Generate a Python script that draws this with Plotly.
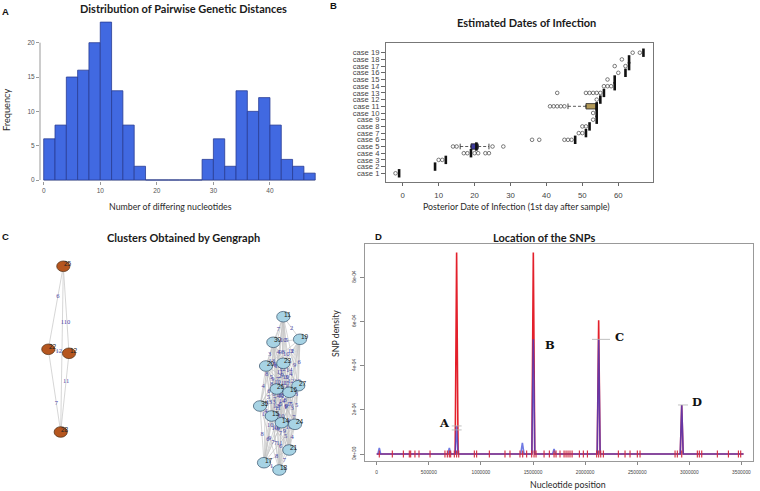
import itertools
import plotly.graph_objects as go

W, H = 760, 491

# ======================= DATA =======================
# Panel A: histogram of pairwise distances (bin width 2)
hist_bin_left = [0, 2, 4, 6, 8, 10, 12, 14, 16, 18, 20, 22, 24, 26, 28, 30, 32, 34, 36, 38, 40, 42, 44, 46]
hist_counts = [6, 8, 15, 16, 20, 23, 13, 8, 2, 0, 0, 0, 0, 0, 3, 6, 2, 13, 10, 12, 8, 3, 2, 1]
hist_bin_width = 2
hist_xticks = [0, 10, 20, 30, 40]
hist_yticks = [0, 5, 10, 15, 20]

# Panel B: estimated dates of infection
case_ids = list(range(1, 20))
case_labels = ["case %d" % i for i in case_ids]
case_medians = [-1, 9, 12, 19, 20.5, 48, 51, 52, 54, 54, 54, 55, 56, 59, 59, 62, 63, 63, 67]
box_case = [5, 11]
box_q1 = [19, 51]
box_median = [20.5, 54]
box_q3 = [21, 54]
box_lower = [16, 46]
box_upper = [24, 54]
box_fill = ["#3d3a9e", "#b39a58"]
outlier_case = [1, 3, 3, 4, 4, 4, 4, 4, 4, 5, 5, 5, 5, 6, 6, 6, 6, 6, 7, 7, 8, 8, 9, 10,
                11, 11, 11, 11, 11, 12, 13, 13, 13, 13, 13, 13, 14, 14, 14, 15, 16, 17, 17, 18, 19, 19]
outlier_value = [-2, 10, 11, 17, 18, 20, 21, 23, 24, 14, 15, 25, 28, 36, 38, 45, 46, 47, 49, 50, 50, 51, 53, 53,
                 41, 42, 43, 44, 45, 54, 43, 51, 52, 53, 54, 55, 56, 57, 58, 57, 60, 59, 62, 61, 64, 66]
date_ticks = [0, 10, 20, 30, 40, 50, 60]

# Panel C: Gengraph clusters (layout coordinates)
orange_ids = ["25", "22", "12", "28"]
orange_x = [63.3, 48.3, 69.0, 60.7]
orange_y = [266.3, 349.3, 353.3, 432.0]
orange_edges = [(0, 1), (0, 2), (0, 3), (1, 2), (1, 3), (2, 3)]
orange_weights = [6, 10, 1, 12, 7, 11]
orange_label_t = [0.36, 0.65, 0.34, 0.5, 0.65, 0.36]

blue_ids = ["11", "19", "30", "23", "20", "26", "27", "16", "35", "15", "14", "24", "21", "17", "18"]
blue_x = [283.3, 300.0, 273.3, 283.3, 266.0, 276.7, 298.3, 289.3, 260.0, 271.7, 281.7, 295.0, 289.3, 264.0, 279.3]
blue_y = [316.7, 339.3, 342.3, 363.3, 366.0, 389.0, 385.7, 392.3, 406.0, 416.0, 422.7, 424.3, 450.0, 462.7, 470.0]
blue_weights = [2, 7, 10, 11, 9, 12, 10, 13, 11, 12, 14, 15, 16, 17,
                5, 3, 8, 7, 6, 9, 11, 10, 12, 10, 13, 14, 15,
                4, 3, 6, 8, 9, 8, 9, 10, 11, 12, 13, 12,
                5, 2, 4, 3, 8, 6, 7, 8, 9, 11, 10,
                5, 9, 7, 4, 6, 8, 10, 11, 12, 11,
                6, 1, 5, 3, 4, 6, 9, 10, 9,
                2, 11, 8, 7, 5, 7, 12, 10,
                7, 5, 1, 3, 6, 10, 9,
                4, 6, 9, 10, 8, 9,
                2, 5, 7, 6, 7,
                3, 5, 7, 6,
                4, 11, 10,
                8, 7,
                1]

# Panel D: SNP density
red_x = [0, 753000, 767000, 781000, 1489000, 1503000, 1517000, 2116000, 2130000, 2144000,
         2913000, 2927000, 2941000, 3520000]
red_y = [0, 0, 9.12e-4, 0, 0, 9.12e-4, 0, 0, 6.06e-4, 0, 0, 2.22e-4, 0, 0]
blue_dx = [0, 12000, 25000, 38000, 683000, 697000, 711000, 753000, 767000, 781000,
           1382000, 1398000, 1414000, 1489000, 1503000, 1517000, 1688000, 1702000, 1716000,
           2116000, 2130000, 2144000, 2913000, 2927000, 2941000, 3520000]
blue_dy = [0, 0, 2.7e-5, 0, 0, 2.7e-5, 0, 0, 1.27e-4, 0, 0, 5.0e-5, 0, 0, 5.2e-4, 0, 0, 2.3e-5, 0,
           0, 5.2e-4, 0, 0, 2.22e-4, 0, 0]
snp_positions = [25000, 150000, 256000, 313000, 326000, 367000, 406000, 512000, 655000, 678000,
                 697000, 710000, 745000, 767000, 787000, 937000, 959000, 1081000, 1231000, 1279000,
                 1375000, 1401000, 1439000, 1487000, 1510000, 1529000, 1606000, 1657000, 1702000,
                 1721000, 1759000, 1798000, 1817000, 1836000, 1855000, 1875000, 1945000, 1983000,
                 2022000, 2111000, 2130000, 2150000, 2175000, 2319000, 2383000, 2431000, 2501000,
                 2527000, 2863000, 2885000, 2927000, 3077000, 3096000, 3119000, 3269000, 3375000,
                 3471000, 3493000]
peak_seg_x0 = [720000, 720000, 2066000, 2891000]
peak_seg_x1 = [815000, 815000, 2239000, 2987000]
peak_seg_y = [1.27e-4, 1.09e-4, 5.19e-4, 2.22e-4]
peak_names = ["A", "B", "C", "D"]
pos_ticks = [0, 500000, 1000000, 1500000, 2000000, 2500000, 3000000, 3500000]
dens_ticks = [0, 2e-4, 4e-4, 6e-4, 8e-4]
dens_ticktext = ["0e+00", "2e-04", "4e-04", "6e-04", "8e-04"]


def px(x):
    return x / W


def py(y):
    return 1 - y / H


fig = go.Figure()

# ======================= PANEL A =======================
fig.add_trace(go.Bar(
    x=[b + hist_bin_width / 2 for b in hist_bin_left], y=hist_counts, width=hist_bin_width,
    marker=dict(color="#4169e1", line=dict(color="#283c94", width=0.8)),
    xaxis="x", yaxis="y", showlegend=False, hoverinfo="skip"))

# ======================= PANEL B =======================
for i in range(len(box_case)):
    fig.add_trace(go.Box(
        y=[box_case[i]], q1=[box_q1[i]], median=[box_median[i]], q3=[box_q3[i]],
        lowerfence=[box_q1[i]], upperfence=[box_q3[i]], orientation="h", width=0.8,
        fillcolor=box_fill[i], line=dict(color="#222", width=0.8),
        xaxis="x2", yaxis="y2", showlegend=False, hoverinfo="skip"))
    wx, wy = [], []
    if box_lower[i] < box_q1[i]:
        wx += [box_lower[i], box_q1[i], None]
        wy += [box_case[i], box_case[i], None]
    if box_upper[i] > box_q3[i]:
        wx += [box_q3[i], box_upper[i], None]
        wy += [box_case[i], box_case[i], None]
    fig.add_trace(go.Scatter(x=wx, y=wy, mode="lines",
                             line=dict(color="#333", width=0.8, dash="3px,2px"),
                             xaxis="x2", yaxis="y2", showlegend=False, hoverinfo="skip"))
    sx = [v for v in (box_lower[i], box_upper[i]) if v not in (box_q1[i], box_q3[i])]
    fig.add_trace(go.Scatter(x=sx, y=[box_case[i]] * len(sx), mode="markers",
                             marker=dict(symbol="line-ns", size=4, line=dict(color="#333", width=0.9)),
                             xaxis="x2", yaxis="y2", showlegend=False, hoverinfo="skip"))

fig.add_trace(go.Scatter(x=case_medians, y=case_ids, mode="markers",
                         marker=dict(symbol="line-ns", size=6, line=dict(color="#111", width=2.6)),
                         xaxis="x2", yaxis="y2", showlegend=False, hoverinfo="skip"))
fig.add_trace(go.Scatter(x=outlier_value, y=outlier_case, mode="markers",
                         marker=dict(symbol="circle-open", size=3.6, color="#444", line=dict(width=0.7)),
                         xaxis="x2", yaxis="y2", showlegend=False, hoverinfo="skip"))

# ======================= PANEL C =======================
shapes = []
annotations = []


def draw_cluster(ids, xs, ys, edges, weights, ts, fill, line_col):
    ex, ey, lx, ly, lt = [], [], [], [], []
    for (a, b), w, t in zip(edges, weights, ts):
        ex += [xs[a], xs[b], None]
        ey += [ys[a], ys[b], None]
        lx.append(xs[a] + t * (xs[b] - xs[a]))
        ly.append(ys[a] + t * (ys[b] - ys[a]))
        lt.append(str(w))
    fig.add_trace(go.Scatter(x=ex, y=ey, mode="lines", line=dict(color="#c4c4c4", width=0.7),
                             xaxis="x3", yaxis="y3", showlegend=False, hoverinfo="skip"))
    fig.add_trace(go.Scatter(x=lx, y=ly, mode="text", text=lt,
                             textfont=dict(family="Liberation Serif", size=6.5, color="#4646a8"),
                             xaxis="x3", yaxis="y3", showlegend=False, hoverinfo="skip"))
    for nid, x, y in zip(ids, xs, ys):
        shapes.append(dict(type="circle", xref="x3", yref="y3", x0=x - 6.6, x1=x + 6.6,
                           y0=y - 5.3, y1=y + 5.3, fillcolor=fill,
                           line=dict(color=line_col, width=0.7), layer="above"))
        annotations.append(dict(x=x + 4.5, y=y - 2.5, xref="x3", yref="y3", text=nid, showarrow=False,
                                font=dict(family="Liberation Sans", size=6.5, color="#222")))


draw_cluster(orange_ids, orange_x, orange_y, orange_edges, orange_weights, orange_label_t,
             "#b5561f", "#4a2a10")
blue_edges = list(itertools.combinations(range(len(blue_ids)), 2))
draw_cluster(blue_ids, blue_x, blue_y, blue_edges, blue_weights, [0.5] * len(blue_edges),
             "#a7d3e4", "#35506a")

# ======================= PANEL D =======================
fig.add_trace(go.Scatter(x=red_x, y=red_y, mode="lines", line=dict(color="#e3202b", width=1.6),
                         xaxis="x4", yaxis="y4", showlegend=False, hoverinfo="skip"))
fig.add_trace(go.Scatter(x=blue_dx, y=blue_dy, mode="lines", line=dict(color="#3442d8", width=1.6),
                         opacity=0.7, xaxis="x4", yaxis="y4", showlegend=False, hoverinfo="skip"))
fig.add_trace(go.Scatter(x=snp_positions, y=[0] * len(snp_positions), mode="markers",
                         marker=dict(symbol="line-ns", size=5, line=dict(color="#d22a3c", width=1.1)),
                         xaxis="x4", yaxis="y4", showlegend=False, hoverinfo="skip"))
sx, sy = [], []
for a, b, v in zip(peak_seg_x0, peak_seg_x1, peak_seg_y):
    sx += [a, b, None]
    sy += [v, v, None]
fig.add_trace(go.Scatter(x=sx, y=sy, mode="lines", line=dict(color="#b0b0b0", width=0.8),
                         xaxis="x4", yaxis="y4", showlegend=False, hoverinfo="skip"))
peak_label_pos = [(655000, 1.39e-4), (1663000, 4.94e-4), (2328000, 5.31e-4), (3071000, 2.37e-4)]
for name, (lx, ly) in zip(peak_names, peak_label_pos):
    annotations.append(dict(x=lx, y=ly, xref="x4", yref="y4", text="<b>%s</b>" % name, showarrow=False,
                            font=dict(family="DejaVu Serif", size=11.5, color="#111")))

# ======================= TEXT =======================
title_font = dict(family="Lato", size=11, color="#1a1a1a")
label_font = dict(family="Lato", size=8.8, color="#2a2a2a")


def ann(text, x, y, font, angle=0, xanchor="center"):
    annotations.append(dict(x=px(x), y=py(y), xref="paper", yref="paper", text=text, showarrow=False,
                            font=font, textangle=angle, xanchor=xanchor, yanchor="middle"))


ann("<b>Distribution of Pairwise Genetic Distances</b>", 183, 8.5, title_font)
ann("<b>Estimated Dates of Infection</b>", 526, 23, title_font)
ann("<b>Clusters Obtained by Gengraph</b>", 183, 237, title_font)
ann("<b>Location of the SNPs</b>", 544, 237, title_font)
ann("Frequency", 6, 110, dict(family="Lato", size=9.2, color="#2a2a2a"), angle=-90)
ann("Number of differing nucleotides", 170, 206.5, label_font)
ann("Posterior Date of Infection (1st day after sample)", 516, 206, label_font)
ann("SNP density", 335, 334, label_font, angle=-90)
ann("Nucleotide position", 567.5, 484, label_font)
letter_font = dict(family="Liberation Sans", size=9.5, color="#111")
ann("<b>A</b>", 5, 12, letter_font)
ann("<b>B</b>", 333, 6, letter_font)
ann("<b>C</b>", 5, 236, letter_font)
ann("<b>D</b>", 378, 236, letter_font)

# axis lines for panel A (R style: only over tick range)
shapes.append(dict(type="line", xref="x domain", yref="y", x0=0, x1=0, y0=0, y1=20,
                   line=dict(color="#999", width=1)))
shapes.append(dict(type="line", xref="x", yref="y", x0=0, x1=48, y0=0, y1=0,
                   line=dict(color="#aaa", width=1), layer="below"))

tick_font = dict(family="Liberation Sans", size=6.5, color="#555")
fig.update_layout(
    width=W, height=H, margin=dict(l=0, r=0, t=0, b=0),
    paper_bgcolor="white", plot_bgcolor="white", showlegend=False,
    shapes=shapes, annotations=annotations,
    xaxis=dict(domain=[px(40), px(322)], range=[-0.654, 49.2], anchor="y", tickvals=hist_xticks,
               ticks="outside", ticklen=3, tickcolor="#999", tickfont=tick_font, showgrid=False,
               zeroline=False, showline=False, automargin=False),
    yaxis=dict(domain=[py(181), py(16)], range=[-0.146, 23.89], anchor="x", tickvals=hist_yticks,
               ticks="outside", ticklen=3, tickcolor="#999", tickfont=tick_font, showgrid=False,
               zeroline=False, showline=False, automargin=False),
    xaxis2=dict(domain=[px(386), px(653)], range=[-4.65, 69.66], anchor="y2", tickvals=date_ticks,
                ticks="outside", ticklen=3, tickcolor="#666", ticklabelstandoff=3,
                tickfont=dict(family="Liberation Sans", size=7.8, color="#444"), showgrid=False,
                zeroline=False, showline=True, mirror=True, linecolor="#777", linewidth=1.2,
                automargin=False),
    yaxis2=dict(domain=[py(182), py(43)], range=[-0.30, 20.45], anchor="x2", tickvals=case_ids,
                ticktext=case_labels, ticks="outside", ticklen=4, tickcolor="#666",
                tickfont=dict(family="Liberation Sans", size=7.6, color="#444"), showgrid=False,
                zeroline=False, showline=True, mirror=True, linecolor="#777", linewidth=1.2,
                automargin=False),
    xaxis3=dict(domain=[0, px(345)], range=[0, 345], anchor="y3", visible=False, automargin=False),
    yaxis3=dict(domain=[py(491), py(250)], range=[491, 250], anchor="x3", visible=False, automargin=False),
    xaxis4=dict(domain=[px(364.5), px(753)], range=[-117000, 3611000], anchor="y4", tickvals=pos_ticks,
                ticktext=[str(v) for v in pos_ticks], ticks="outside", ticklen=3, tickcolor="#888",
                ticklabelstandoff=3,
                tickfont=dict(family="Liberation Sans", size=4.8, color="#444"), showgrid=False,
                zeroline=False, showline=True, mirror=True, linecolor="#999", linewidth=1,
                automargin=False),
    yaxis4=dict(domain=[py(461), py(244)], range=[-3.17e-5, 9.508e-4], anchor="x4", tickvals=dens_ticks,
                ticktext=dens_ticktext, tickangle=-90, ticks="outside", ticklen=4, tickcolor="#888",
                ticklabelstandoff=2,
                tickfont=dict(family="Liberation Sans", size=4.8, color="#444"), showgrid=False,
                zeroline=False, showline=True, mirror=True, linecolor="#999", linewidth=1,
                automargin=False),
)

fig.write_html("out.html", config={"displayModeBar": False},
               post_script="document.body.style.margin='0px';")
